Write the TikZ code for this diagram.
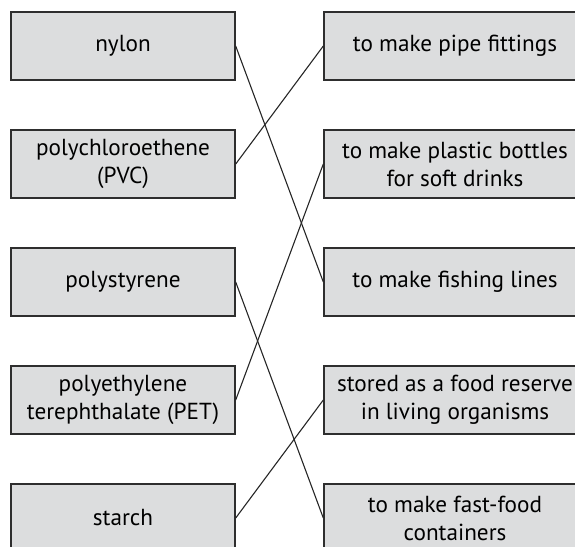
\documentclass[tikz,border=0pt]{standalone}
\usepackage{fontspec}
\setmainfont{PT Sans}
\definecolor{boxfill}{HTML}{DCDDDE}
\definecolor{boxline}{HTML}{2E2E2E}
\begin{document}
\begin{tikzpicture}[x=1pt,y=1pt,
  lbox/.style={draw=boxline, line width=1.4pt, fill=boxfill, minimum width=224pt, minimum height=68pt, inner sep=0pt, align=center, font=\fontsize{23.2}{28}\selectfont, text=black},
  rbox/.style={lbox, minimum width=262pt},
  link/.style={draw=black!85, line width=1.1pt}]
\useasboundingbox (0,0) rectangle (575,-546);
\begin{scope}
\clip (0,0) rectangle (575,-546);
\node[lbox] (L1) at (123,-46) {nylon};
\node[lbox] (L2) at (123,-164) {polychloroethene\\(PVC)};
\node[lbox] (L3) at (123,-282) {polystyrene};
\node[lbox] (L4) at (123,-400) {polyethylene\\terephthalate (PET)};
\node[lbox] (L5) at (123,-518) {starch};
\node[rbox] (R1) at (455,-46) {to make pipe fittings};
\node[rbox] (R2) at (455,-164) {to make plastic bottles\\for soft drinks};
\node[rbox] (R3) at (455,-282) {to make fishing lines};
\node[rbox] (R4) at (455,-400) {stored as a food reserve\\in living organisms};
\node[rbox] (R5) at (455,-518) {to make fast-food\\containers};
\draw[link] (L1.east) -- (R3.west);
\draw[link] (L2.east) -- (R1.west);
\draw[link] (L3.east) -- (R5.west);
\draw[link] (L4.east) -- (R2.west);
\draw[link] (L5.east) -- (R4.west);
\end{scope}
\end{tikzpicture}
\end{document}
